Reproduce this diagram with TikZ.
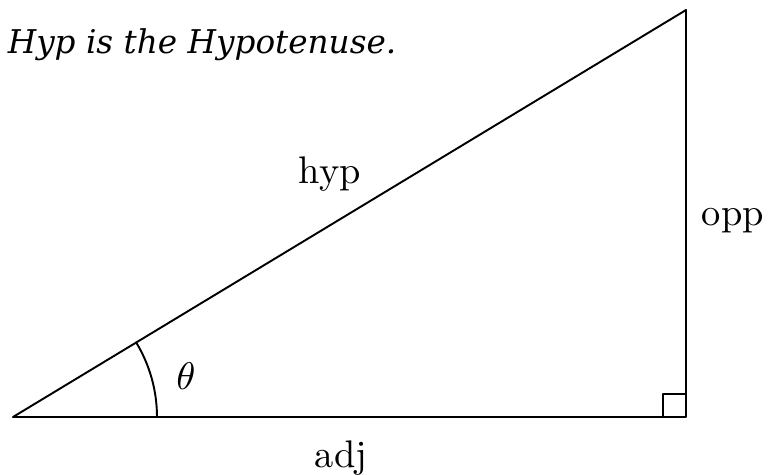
\documentclass[tikz,border=0pt]{standalone}
\usepackage{fontspec}
\newfontfamily\headfont{DejaVu Serif}
\usetikzlibrary{calc,positioning}

\begin{document}
\begin{tikzpicture}[x=0.26pt,y=-0.26pt,line join=round,line cap=round,
  side/.style={line width=0.5pt},
  lbl/.style={anchor=base,inner sep=0pt}]
  \useasboundingbox (0,0) rectangle (771,474);
  \node[lbl,anchor=base west,font=\headfont\itshape\fontsize{8.5}{10}\selectfont] (head) at (7,53) {Hyp is the Hypotenuse.};
  % triangle
  \coordinate (A) at (13,417);
  \coordinate (B) at (686,417);
  \coordinate (C) at (686,10);
  \draw[side] (A)--(B)--(C)--cycle;
  \draw[side] ($(B)+(-23,0)$)--++(0,-23)--++(23,0);
  \draw[side] ($(A)+(144,0)$) arc[start angle=0,end angle=31.2,radius=144*0.26pt];
  \node[lbl] (hyp) at (330,183) {hyp};
  \node[lbl] (opp) at (733,225) {opp};
  \node[lbl] (adj) at (341,467) {adj};
  \node[lbl] (theta) at (186,389) {$\theta$};
\end{tikzpicture}
\end{document}
